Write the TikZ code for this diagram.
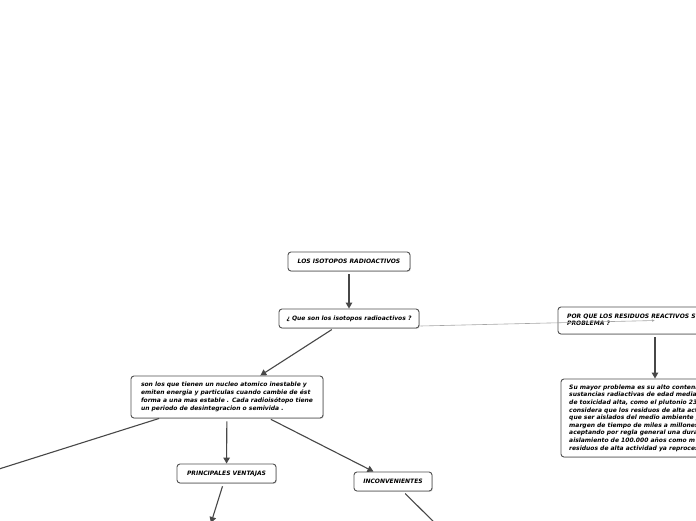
\documentclass[tikz,border=0pt]{standalone}
\usepackage{fontspec}
\setmainfont{DejaVu Sans}
\usetikzlibrary{arrows.meta,shadows,calc}
\tikzset{
  box/.style={draw=black!68, line width=0.9pt, rounded corners=3pt, fill=white,
    drop shadow={shadow xshift=0.8pt, shadow yshift=-0.8pt, fill=black!30, opacity=0.6},
    font=\fontsize{6}{7.8}\selectfont\bfseries\itshape, inner sep=0pt, align=center},
  link/.style={draw=black!72, line width=1.1pt, -{Triangle[length=6pt,width=6.5pt]}},
  plain/.style={draw=black!72, line width=1.1pt},
  thin/.style={draw=black!35, line width=0.6pt, -{Latex[length=3pt,width=2.5pt]}}
}
\begin{document}
\begin{tikzpicture}[x=1pt,y=-1pt]
\useasboundingbox (0,0) rectangle (696,520);
\clip (0,0) rectangle (696,520);
\fill[white] (0,0) rectangle (696,520);
\node[box, minimum width=122pt, minimum height=19pt] (b1) at (349,261.5) {LOS ISOTOPOS RADIOACTIVOS};
\node[box, minimum width=140pt, minimum height=19pt] (b2) at (349,318.5) {¿ Que son los isotopos radioactivos ?};
\node[box, minimum width=192pt, minimum height=42pt, align=left] (b3) at (227,397) {son los que tienen un nucleo atomico inestable y\\emiten energia y particulas cuando cambie de ést\\forma a una mas estable . Cada radioisótopo tiene\\un periodo de desintegracion o semivida .};
\node[box, minimum width=99pt, minimum height=19pt] (pv) at (226.5,473.5) {PRINCIPALES VENTAJAS};
\node[box, minimum width=78pt, minimum height=19pt] (inc) at (393,481.5) {INCONVENIENTES};
\node[box, minimum width=194pt, minimum height=27pt] (r1) at (655,320.5) {};
\node[anchor=north west, inner sep=0pt, align=left, font=\fontsize{6}{7.4}\selectfont\bfseries\itshape] (r1t) at (567,313.5) {POR QUE LOS RESIDUOS REACTIVOS S\\PROBLEMA ?};
\node[box, minimum width=188pt, minimum height=78pt] (r2) at (655,418) {};
\node[anchor=north west, inner sep=0pt, align=left, font=\fontsize{6}{7.6}\selectfont\bfseries\itshape] (r2t) at (569,384.5) {Su mayor problema es su alto conteni\\sustancias radiactivas de edad media\\de toxicidad alta, como el plutonio 23\\considera que los residuos de alta act\\que ser aislados del medio ambiente p\\margen de tiempo de miles a millones\\aceptando por regla general una dura\\aislamiento de 100.000 años como m\\residuos de alta actividad ya reproces};
\coordinate (offL) at (-20,475);
\coordinate (offPV) at (211,523);
\coordinate (offINC) at (446,534);
\coordinate (b2r) at ($(b2.east)+(1,7.5)$);
\draw[link, shorten <=3pt] (b1) -- (b2);
\draw[link, shorten <=2pt] (b2) -- (b3);
\draw[plain] (b3) -- (offL);
\draw[link, shorten <=3pt] (b3) -- (pv);
\draw[link, shorten <=2pt] (b3) -- (inc);
\draw[link, shorten <=3pt] (pv) -- (offPV);
\draw[link, shorten <=3pt] (inc) -- (offINC);
\draw[thin] (b2r) -- (r1.center);
\draw[link, shorten <=3pt] (r1) -- (r2);
\end{tikzpicture}
\end{document}
